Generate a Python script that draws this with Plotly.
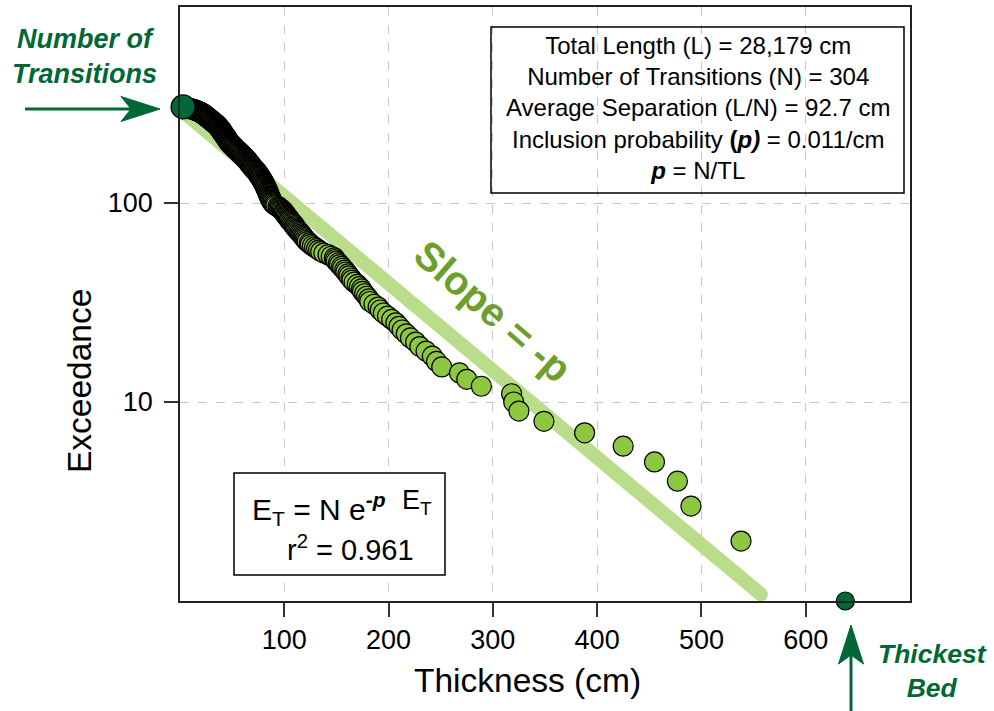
import plotly.graph_objects as go

# ---------------- data ----------------
# bed thicknesses (cm), sorted ascending
thickness = [
    3, 5, 6, 7, 8, 9, 10, 11, 12, 13, 14, 14, 15, 16, 17, 17, 18, 19, 19, 20, 20, 21, 21, 22, 22,
    23, 23, 23, 24, 24, 25, 25, 25, 26, 26,
    27, 27, 27, 28, 28, 28, 29, 29, 30, 30,
    30, 31, 31, 32, 32, 32, 33, 33, 34, 34,
    34, 35, 35, 35, 36, 36, 36, 37, 37, 37,
    38, 38, 38, 38, 39, 39, 39, 40, 40, 40,
    40, 40, 41, 41, 41, 41, 42, 42, 42, 42,
    43, 43, 43, 44, 44, 44,
    44, 45, 45, 45, 45, 46, 46, 46, 46, 47, 47, 47, 48, 48,
    48, 49, 49, 49, 50, 50, 51, 51, 52, 52,
    52, 53, 53, 54, 54, 55, 55, 56, 56, 57,
    57, 58, 58, 59,
    59, 60, 60, 61, 61, 62,
    62, 63, 63, 63, 64, 64, 65, 65, 66, 66,
    66, 67, 67, 68, 68, 68, 69, 69, 70, 70,
    71, 71, 72, 72, 73, 73, 74, 74, 75, 75,
    75, 76, 76, 77, 77, 77, 78, 78, 79, 79,
    79, 80, 80, 80, 81, 81, 81, 82, 82, 82,
    83, 83, 83, 84, 84, 84, 85, 85, 85,
    85, 86, 86, 86, 87, 87,
    87, 88, 88, 89, 89,
    90, 91, 92, 94, 95,
    96, 97, 98, 99, 100,
    100, 101, 102, 102, 103,
    104, 105, 105, 106, 107,
    108, 109, 110, 110, 111,
    112, 113, 114, 115, 116,
    117, 118, 119, 120, 121,
    122, 124, 125, 127, 129,
    131, 133, 135,
    138, 142,
    145, 148,
    149, 150, 152,
    153, 155, 156,
    158, 159,
    161, 162, 164,
    165, 167,
    170, 172,
    174, 175, 177,
    179, 181, 182,
    186, 190,
    192, 195,
    199, 203,
    207, 210, 213, 217, 221, 226, 230, 236, 242, 246, 251,
    268, 275, 289, 318, 320, 325, 349, 388, 425, 455, 477, 490, 538, 638,
]
# exceedance = number of beds at least this thick (rank from the thickest)
exceedance = list(range(len(thickness), 0, -1))

# fitted exponential line (end points)
fit_x = [2, 557]
fit_y = [290, 1.08]

x_ticks = [100, 200, 300, 400, 500, 600]
y_ticks = [10, 100]

stats_lines = [
    "Total Length (L) = 28,179 cm",
    "Number of Transitions (N) = 304",
    "Average Separation (L/N) = 92.7 cm",
    "Inclusion probability <b>(<i>p)</i></b> = 0.011/cm",
    "<b><i>p</i></b> = N/TL",
]

# ---------------- styling ----------------
FONT = "Liberation Sans, Arial, sans-serif"
LIME = "#8dc63f"
DARK = "#006837"
FITC = "#badd8c"
SLOPEC = "#6e9e2c"

W, H = 994, 711
ML, MR, MT, MB = 180, 84, 7, 110
PW, PH = W - ML - MR, H - MT - MB


def px(xp):
    return (xp - ML) / PW


def py(yp):
    return (H - MB - yp) / PH


fig = go.Figure()

# fit line (with round-cap imitation through end markers)
fig.add_trace(go.Scatter(
    x=fit_x, y=fit_y, mode="lines+markers",
    line=dict(color=FITC, width=14),
    marker=dict(color=FITC, size=14, line=dict(width=0)),
    cliponaxis=False, hoverinfo="skip", showlegend=False,
))

# all beds except the two highlighted ends
fig.add_trace(go.Scatter(
    x=thickness[1:-1], y=exceedance[1:-1], mode="markers",
    marker=dict(color=LIME, size=20, line=dict(color="black", width=1.2)),
    cliponaxis=False, showlegend=False,
))

# number of transitions (thinnest, highest exceedance)
fig.add_trace(go.Scatter(
    x=thickness[:1], y=exceedance[:1], mode="markers",
    marker=dict(color=DARK, size=24, line=dict(color="black", width=1.3)),
    cliponaxis=False, showlegend=False,
))
# thickest bed
fig.add_trace(go.Scatter(
    x=thickness[-1:], y=exceedance[-1:], mode="markers",
    marker=dict(color=DARK, size=18, line=dict(color="black", width=1.2)),
    cliponaxis=False, showlegend=False,
))

axis_common = dict(
    showline=True, linecolor="#222", linewidth=1.5, mirror=True,
    ticks="outside", ticklen=14, tickwidth=1.5, tickcolor="#333",
    showgrid=True, gridcolor="#c8c8c8", gridwidth=1, griddash="dash",
    zeroline=False, tickfont=dict(family=FONT, size=27, color="black"),
)

fig.update_xaxes(range=[0, 700], tickvals=x_ticks, ticktext=[str(v) for v in x_ticks],
                 **axis_common)
fig.update_yaxes(type="log", range=[0, 2.985], tickvals=y_ticks,
                 ticktext=[str(v) for v in y_ticks], ticklabelstandoff=6, **axis_common)

shapes = []
# stats box
shapes.append(dict(type="rect", xref="paper", yref="paper",
                   x0=px(491), x1=px(904), y0=py(193), y1=py(27),
                   line=dict(color="black", width=1.5), fillcolor="rgba(0,0,0,0)"))
# equation box
shapes.append(dict(type="rect", xref="paper", yref="paper",
                   x0=px(234), x1=px(445), y0=py(575), y1=py(473),
                   line=dict(color="black", width=1.5), fillcolor="white"))

# left arrow (horizontal)
shapes.append(dict(type="line", xref="paper", yref="paper",
                   x0=px(25), x1=px(133), y0=py(109), y1=py(109),
                   line=dict(color=DARK, width=3)))
shapes.append(dict(type="path", xref="paper", yref="paper",
                   path=(f"M {px(160)},{py(109)} L {px(121)},{py(96.5)} "
                         f"L {px(131)},{py(109)} L {px(121)},{py(121.5)} Z"),
                   line=dict(color=DARK, width=1), fillcolor=DARK))
# bottom arrow (vertical)
shapes.append(dict(type="line", xref="paper", yref="paper",
                   x0=px(851), x1=px(851), y0=py(711), y1=py(654),
                   line=dict(color=DARK, width=3)))
shapes.append(dict(type="path", xref="paper", yref="paper",
                   path=(f"M {px(851)},{py(625)} L {px(838.5)},{py(664)} "
                         f"L {px(851)},{py(655)} L {px(863.5)},{py(664)} Z"),
                   line=dict(color=DARK, width=1), fillcolor=DARK))

annotations = []
annotations.append(dict(xref="paper", yref="paper", x=px(697.5), y=py(108),
                        text="<br>".join(stats_lines), showarrow=False,
                        align="center", xanchor="center", yanchor="middle",
                        font=dict(family=FONT, size=24, color="black")))
# equation: E_T = N e^(-p E_T)
annotations.append(dict(xref="paper", yref="paper", x=px(250), y=py(509),
                        text="E<sub>T</sub> = N e<sup><b><i>-p</i></b></sup>",
                        showarrow=False, xanchor="left", yanchor="middle",
                        font=dict(family=FONT, size=30, color="black")))
annotations.append(dict(xref="paper", yref="paper", x=px(400), y=py(502),
                        text="E<sub>T</sub>",
                        showarrow=False, xanchor="left", yanchor="middle",
                        font=dict(family=FONT, size=27, color="black")))
annotations.append(dict(xref="paper", yref="paper", x=px(350), y=py(548),
                        text="r<sup>2</sup> = 0.961",
                        showarrow=False, xanchor="center", yanchor="middle",
                        font=dict(family=FONT, size=29, color="black")))
annotations.append(dict(xref="x", yref="y", x=300, y=1.457, text="<b>Slope = -p</b>",
                        textangle=41, showarrow=False, xanchor="center", yanchor="middle",
                        font=dict(family=FONT, size=40, color=SLOPEC)))
annotations.append(dict(xref="paper", yref="paper", x=px(527), y=py(680),
                        text="Thickness (cm)", showarrow=False,
                        xanchor="center", yanchor="middle",
                        font=dict(family=FONT, size=33.5, color="black")))
annotations.append(dict(xref="paper", yref="paper", x=px(79), y=py(381),
                        text="Exceedance", textangle=-90, showarrow=False,
                        xanchor="center", yanchor="middle",
                        font=dict(family=FONT, size=33.5, color="black")))
annotations.append(dict(xref="paper", yref="paper", x=px(84), y=py(57),
                        text="<b><i>Number of<br>Transitions</i></b>", showarrow=False,
                        align="center", xanchor="center", yanchor="middle",
                        font=dict(family=FONT, size=27, color=DARK)))
annotations.append(dict(xref="paper", yref="paper", x=px(932), y=py(671),
                        text="<b><i>Thickest<br>Bed</i></b>", showarrow=False,
                        align="center", xanchor="center", yanchor="middle",
                        font=dict(family=FONT, size=26.5, color=DARK)))

fig.update_layout(
    width=W, height=H,
    margin=dict(l=ML, r=MR, t=MT, b=MB, autoexpand=False),
    paper_bgcolor="white", plot_bgcolor="white",
    showlegend=False, shapes=shapes, annotations=annotations,
    font=dict(family=FONT, color="black"),
)

fig.write_html("out.html")
